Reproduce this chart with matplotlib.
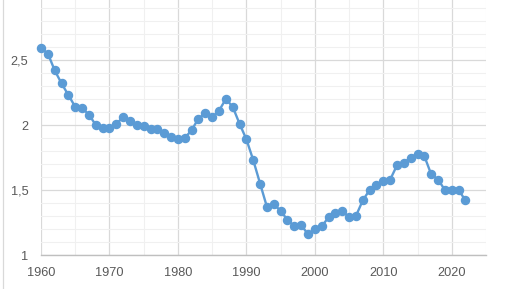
import matplotlib
matplotlib.use("Agg")
import matplotlib.pyplot as plt
from matplotlib.ticker import MultipleLocator, FuncFormatter
from matplotlib.lines import Line2D

years = list(range(1960, 2023))
values = [2.59, 2.55, 2.42, 2.32, 2.23, 2.14, 2.13, 2.08, 2.00, 1.98,
          1.98, 2.01, 2.06, 2.03, 2.00, 1.99, 1.97, 1.97, 1.94, 1.91,
          1.89, 1.90, 1.96, 2.05, 2.09, 2.06, 2.11, 2.20, 2.14, 2.01,
          1.89, 1.73, 1.55, 1.37, 1.39, 1.34, 1.27, 1.22, 1.23, 1.16,
          1.20, 1.22, 1.29, 1.32, 1.34, 1.29, 1.30, 1.42, 1.50, 1.54,
          1.57, 1.58, 1.69, 1.71, 1.75, 1.78, 1.76, 1.62, 1.58, 1.50,
          1.50, 1.50, 1.42]

fig = plt.figure(figsize=(5.16, 2.89), dpi=100)
ax = fig.add_axes([41/516, 1 - 255/289, (486-41)/516, 255/289])

ax.plot(years, values, color="#5B9BD5", lw=1.7, marker="o", ms=5.8,
        markerfacecolor="#5B9BD5", markeredgecolor="#5B9BD5", zorder=3,
        clip_on=False)

ax.set_xlim(1960, 2025)
ax.set_ylim(1, 1 + 255/130)
ax.xaxis.set_major_locator(MultipleLocator(10))
ax.xaxis.set_minor_locator(MultipleLocator(5))
ax.yaxis.set_major_locator(MultipleLocator(0.5))
ax.yaxis.set_minor_locator(MultipleLocator(0.1))
ax.yaxis.set_major_formatter(FuncFormatter(lambda v, p: (f"{v:g}").replace(".", ",")))

ax.grid(which="major", color="#d9d9d9", lw=0.9)
ax.grid(which="minor", color="#f0f0f0", lw=0.8)
ax.set_axisbelow(True)
for s in ["top", "right", "left"]:
    ax.spines[s].set_visible(False)
ax.spines["bottom"].set_color("#bfbfbf")
ax.spines["bottom"].set_linewidth(1.0)
ax.tick_params(which="both", length=0)
ax.tick_params(axis="y", pad=9, labelsize=9.2, labelcolor="#595959")
ax.tick_params(axis="x", pad=9, labelsize=9.2, labelcolor="#595959")
for lab in ax.get_xticklabels() + ax.get_yticklabels():
    lab.set_fontfamily("Liberation Sans")

fig.add_artist(Line2D([2.5/516, 2.5/516], [0, 1], transform=fig.transFigure,
                      color="#d9d9d9", lw=0.9))

fig.savefig("out.png", dpi=100)
